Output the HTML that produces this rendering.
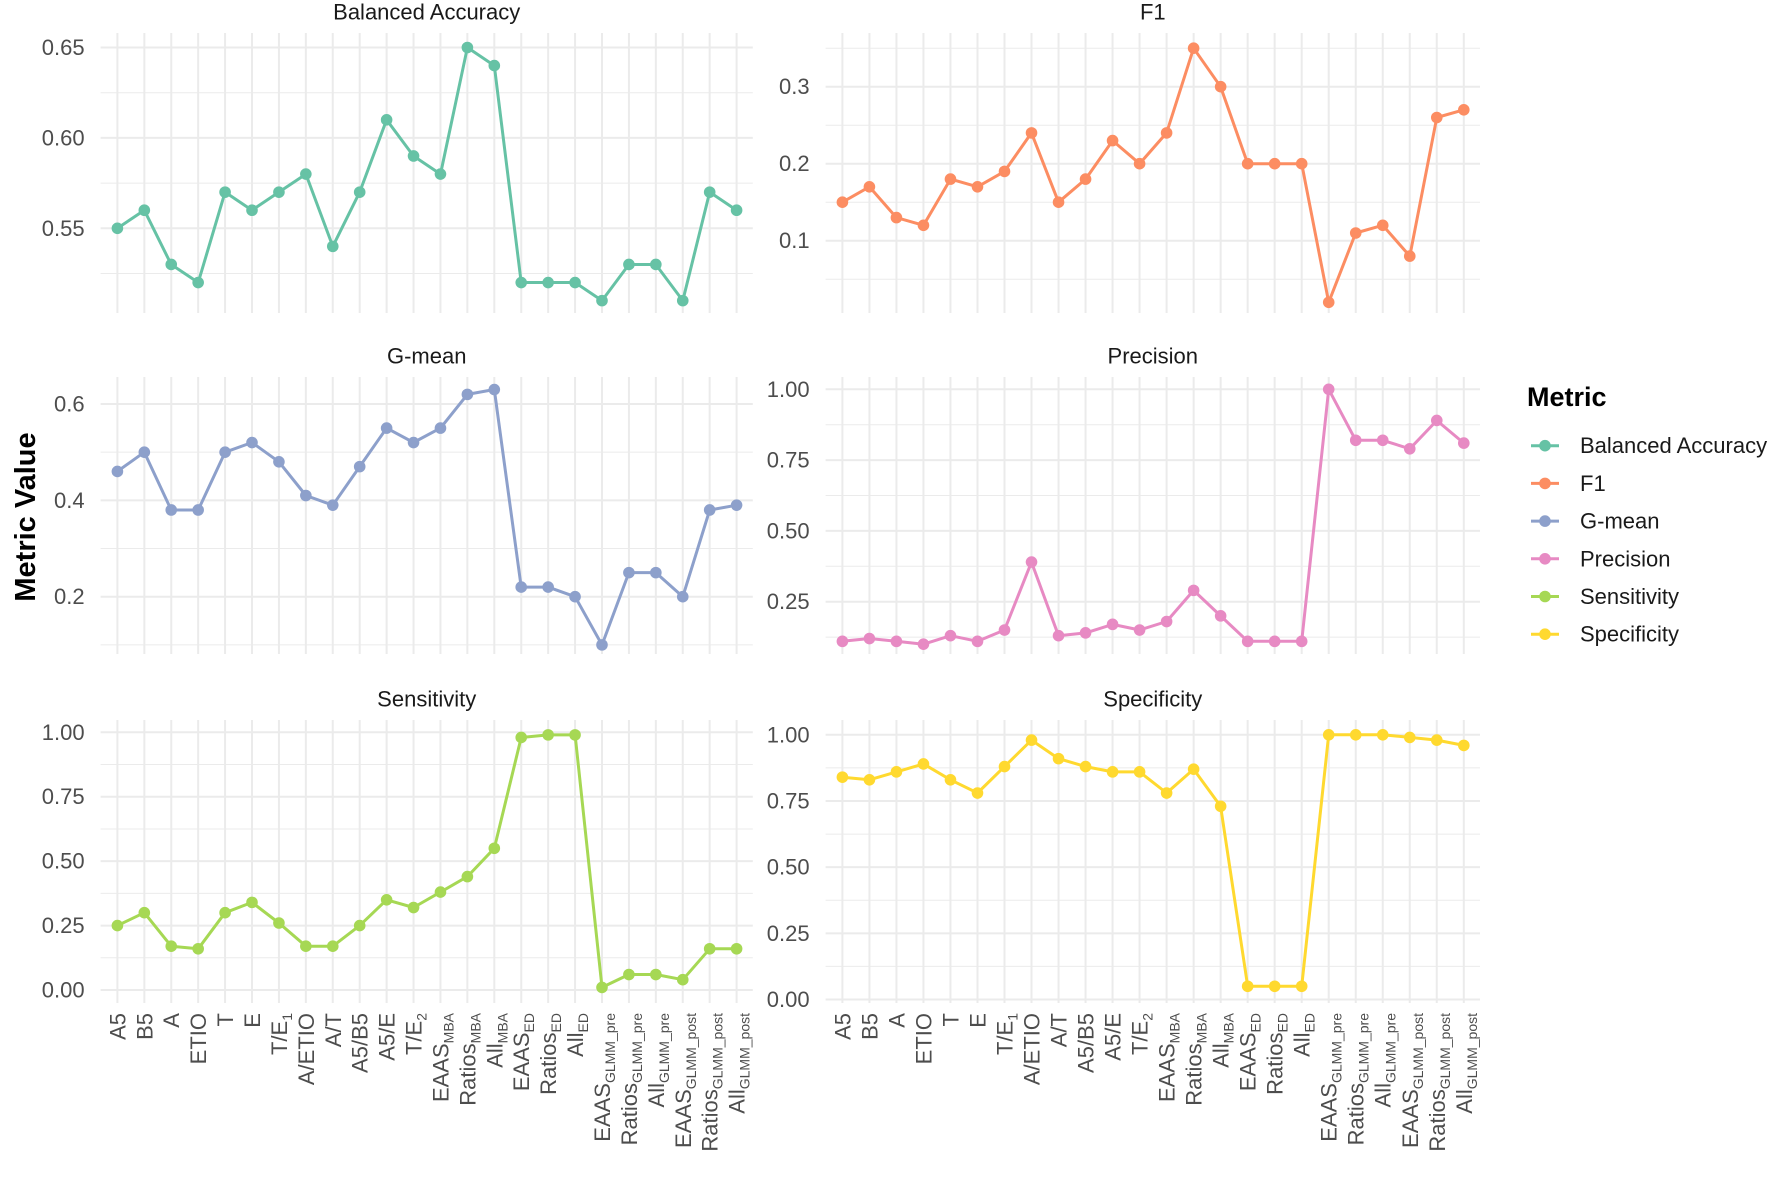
<!DOCTYPE html>
<html><head><meta charset="utf-8">
<style>
html,body{margin:0;padding:0;background:#fff;}
svg{display:block;font-family:"Liberation Sans",Arial,sans-serif;}
</style></head>
<body>
<svg id="chart" width="1789" height="1177" viewBox="0 0 1789 1177" xmlns="http://www.w3.org/2000/svg">
<text transform="translate(26,517) rotate(-90)" text-anchor="middle" dominant-baseline="central" font-size="29" font-weight="bold" fill="#000">Metric Value</text>
<g id="legend"></g>
</svg>
<script>
const categories = ["A5","B5","A","ETIO","T","E","T/E|1","A/ETIO","A/T","A5/B5","A5/E","T/E|2","EAAS|MBA","Ratios|MBA","All|MBA","EAAS|ED","Ratios|ED","All|ED","EAAS|GLMM_pre","Ratios|GLMM_pre","All|GLMM_pre","EAAS|GLMM_post","Ratios|GLMM_post","All|GLMM_post"];
const metricNames = ["Balanced Accuracy","F1","G-mean","Precision","Sensitivity","Specificity"];
const metricColors = ["#66c2a5","#fc8d62","#8da0cb","#e78ac3","#a6d854","#ffd92f"];
const balancedAccuracy = [0.55,0.56,0.53,0.52,0.57,0.56,0.57,0.58,0.54,0.57,0.61,0.59,0.58,0.65,0.64,0.52,0.52,0.52,0.51,0.53,0.53,0.51,0.57,0.56];
const f1 = [0.15,0.17,0.13,0.12,0.18,0.17,0.19,0.24,0.15,0.18,0.23,0.20,0.24,0.35,0.30,0.20,0.20,0.20,0.02,0.11,0.12,0.08,0.26,0.27];
const gmean = [0.46,0.50,0.38,0.38,0.50,0.52,0.48,0.41,0.39,0.47,0.55,0.52,0.55,0.62,0.63,0.22,0.22,0.20,0.10,0.25,0.25,0.20,0.38,0.39];
const precision = [0.11,0.12,0.11,0.10,0.13,0.11,0.15,0.39,0.13,0.14,0.17,0.15,0.18,0.29,0.20,0.11,0.11,0.11,1.00,0.82,0.82,0.79,0.89,0.81];
const sensitivity = [0.25,0.30,0.17,0.16,0.30,0.34,0.26,0.17,0.17,0.25,0.35,0.32,0.38,0.44,0.55,0.98,0.99,0.99,0.01,0.06,0.06,0.04,0.16,0.16];
const specificity = [0.84,0.83,0.86,0.89,0.83,0.78,0.88,0.98,0.91,0.88,0.86,0.86,0.78,0.87,0.73,0.05,0.05,0.05,1.00,1.00,1.00,0.99,0.98,0.96];
const baTicks = ["0.55","0.60","0.65"];
const f1Ticks = ["0.1","0.2","0.3"];
const gmTicks = ["0.2","0.4","0.6"];
const prTicks = ["0.25","0.50","0.75","1.00"];
const seTicks = ["0.00","0.25","0.50","0.75","1.00"];
const spTicks = ["0.00","0.25","0.50","0.75","1.00"];

const NS = "http://www.w3.org/2000/svg";
const svg = document.getElementById("chart");
function mk(tag, attrs, parent){const e=document.createElementNS(NS,tag);for(const k in attrs)e.setAttribute(k,attrs[k]);(parent||svg).appendChild(e);return e;}

const panels = [
 {name:"balanced-accuracy",data:balancedAccuracy,ticks:baTicks,step:0.05,x0:100.6,x1:752.8,top:33,bot:313,vA:0.55,yA:228.3,vB:0.65,yB:47.5},
 {name:"f1",data:f1,ticks:f1Ticks,step:0.1,x0:825.6,x1:1480,top:33,bot:313,vA:0.1,yA:240.7,vB:0.3,yB:86.7},
 {name:"g-mean",data:gmean,ticks:gmTicks,step:0.2,x0:100.6,x1:752.8,top:377,bot:654,vA:0.2,yA:596.7,vB:0.6,yB:404},
 {name:"precision",data:precision,ticks:prTicks,step:0.25,x0:825.6,x1:1480,top:377,bot:654,vA:0.25,yA:601.7,vB:1.0,yB:389.3},
 {name:"sensitivity",data:sensitivity,ticks:seTicks,step:0.25,x0:100.6,x1:752.8,top:720,bot:1003,vA:0.0,yA:990,vB:1.0,yB:732.3},
 {name:"specificity",data:specificity,ticks:spTicks,step:0.25,x0:825.6,x1:1480,top:720,bot:1003,vA:0.0,yA:999.5,vB:1.0,yB:734.8}
];

panels.forEach((p,pi)=>{
  const g = mk("g",{});
  
  
  const xFirst = p.x0+16.8, xLast = p.x1-16.2;
  const xs = i => xFirst + i*(xLast-xFirst)/(categories.length-1);
  const ys = v => p.yA + (v-p.vA)*(p.yB-p.yA)/(p.vB-p.vA);
  const vTop = p.vA + (p.top-p.yA)*(p.vB-p.vA)/(p.yB-p.yA);
  const vBot = p.vA + (p.bot-p.yA)*(p.vB-p.vA)/(p.yB-p.yA);
  const h = p.step/2;
  for(let k=Math.ceil(vBot/h-1e-9);k*h<=vTop+1e-9;k++){
    const major = Math.abs(Math.round(k)%2)===0;
    const y=ys(k*h);
    const l=mk("line",{x1:p.x0,x2:p.x1,y1:y,y2:y,stroke:"#ebebeb","stroke-width":major?2:1},g);
    
    
  }
  categories.forEach((c,i)=>{
    const l=mk("line",{x1:xs(i),x2:xs(i),y1:p.top,y2:p.bot,stroke:"#ebebeb","stroke-width":2},g);
    
    
  });
  p.ticks.forEach(t=>{
    const tx=mk("text",{x:p.x0-16,y:ys(parseFloat(t)),"text-anchor":"end","dominant-baseline":"central","font-size":22,fill:"#4d4d4d"},g);
    tx.textContent=t;
    
    
  });
  const tt=mk("text",{x:(p.x0+p.x1)/2,y:p.top-21,"text-anchor":"middle","dominant-baseline":"central","font-size":22,fill:"#1a1a1a"},g);
  tt.textContent=metricNames[pi];
  
  
  const pts=p.data.map((v,i)=>xs(i).toFixed(1)+","+ys(v).toFixed(1)).join(" ");
  const pl=mk("polyline",{points:pts,fill:"none",stroke:metricColors[pi],"stroke-width":3,"stroke-linejoin":"round"},g);
  
  
  p.data.forEach((v,i)=>{
    const c=mk("circle",{cx:xs(i),cy:ys(v),r:5.8,fill:metricColors[pi]},g);
    
    
  });
  if(pi>=4){
    categories.forEach((c,i)=>{
      const parts=c.split("|");
      const t=mk("text",{transform:"translate("+(xs(i)+8).toFixed(1)+",1013) rotate(-90)","text-anchor":"end","font-size":22,fill:"#4d4d4d"},g);
      
      
      const a=document.createElementNS(NS,"tspan");a.textContent=parts[0];t.appendChild(a);
      if(parts[1]){const s=document.createElementNS(NS,"tspan");s.setAttribute("font-size","14");s.setAttribute("dy","5");s.textContent=parts[1];t.appendChild(s);}
    });
  }
});

const lg=document.getElementById("legend");
const lt=mk("text",{x:1527,y:397,"dominant-baseline":"central","font-size":27,"font-weight":"bold",fill:"#000"},lg);
lt.textContent="Metric";


metricNames.forEach((n,i)=>{
  const y=445.7+i*37.7;
  const ln=mk("line",{x1:1531,x2:1559,y1:y,y2:y,stroke:metricColors[i],"stroke-width":3},lg);
  
  
  const c=mk("circle",{cx:1545,cy:y,r:5.8,fill:metricColors[i]},lg);
  
  
  const t=mk("text",{x:1580,y:y,"dominant-baseline":"central","font-size":22,fill:"#1a1a1a"},lg);
  t.textContent=n;
  
  
});
</script>
</body></html>
